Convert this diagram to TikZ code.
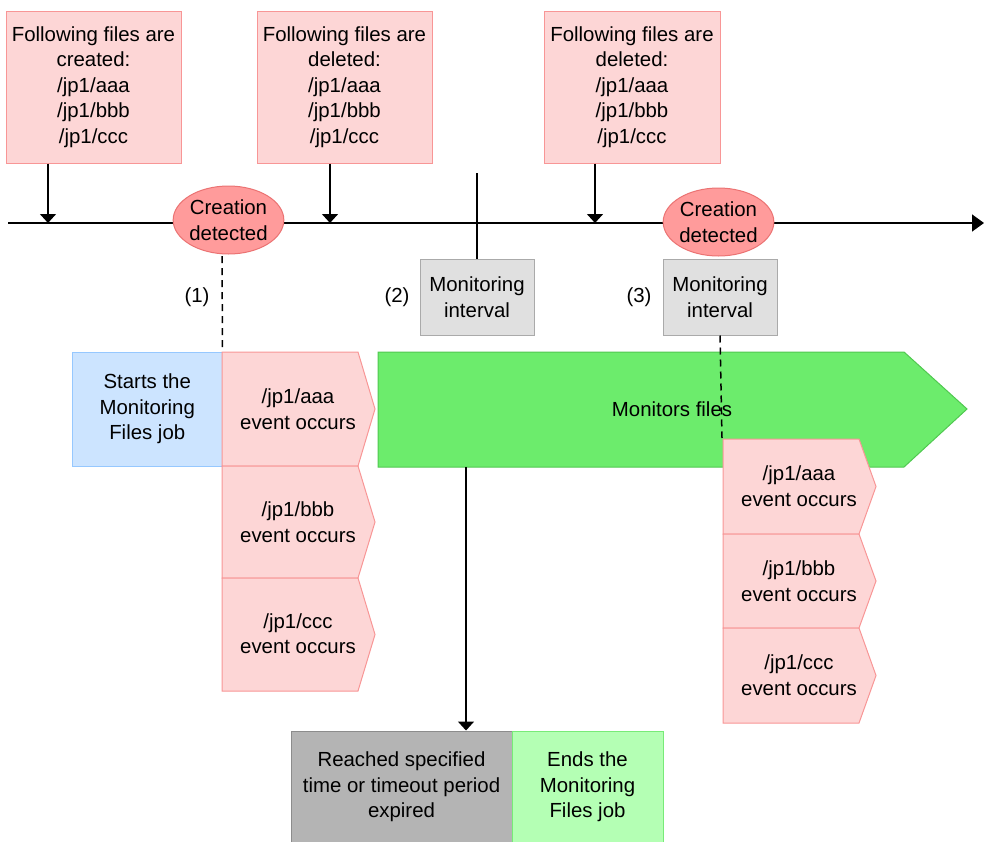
\documentclass[tikz,border=0pt]{standalone}
\usepackage{fontspec}
\setmainfont{Liberation Sans}
\usetikzlibrary{arrows.meta,shapes.geometric}
\definecolor{pinkfill}{RGB}{253,214,214}
\definecolor{pinkline}{RGB}{248,150,150}
\definecolor{ellfill}{RGB}{255,155,155}
\definecolor{ellline}{RGB}{235,115,115}
\definecolor{bluefill}{RGB}{204,228,255}
\definecolor{blueline}{RGB}{150,200,255}
\definecolor{greyfill}{RGB}{224,224,224}
\definecolor{greyline}{RGB}{170,170,170}
\definecolor{dgreyfill}{RGB}{180,180,180}
\definecolor{dgreyline}{RGB}{140,140,140}
\definecolor{greenfill}{RGB}{108,236,108}
\definecolor{greenline}{RGB}{80,200,80}
\definecolor{lgreenfill}{RGB}{180,255,180}
\definecolor{lgreenline}{RGB}{120,235,120}
\tikzset{
  pinkbox/.style={draw=pinkline, fill=pinkfill, line width=1pt, align=center, inner sep=0pt},
  evshape/.style={draw=pinkline, fill=pinkfill, line width=1pt},
  ellbox/.style={ellipse, draw=ellline, fill=ellfill, line width=1pt, align=center, inner sep=0pt, minimum width=103pt, minimum height=68pt},
  intbox/.style={draw=greyline, fill=greyfill, line width=1pt, align=center, inner sep=0pt, minimum width=114pt, minimum height=76pt},
  txt/.style={align=center, inner sep=0pt},
  arr/.style={line width=1.5pt, -{Triangle[width=16pt,length=9pt]}},
  dashline/.style={line width=1.5pt, dash pattern=on 7pt off 5pt},
}
\begin{document}
\begin{tikzpicture}[x=1pt,y=-1pt, font=\fontsize{20.4}{25.5}\selectfont]
\useasboundingbox (0,0) rectangle (984,841);

% top boxes
\node[pinkbox, minimum width=175pt, minimum height=152pt] (b1) at (93.5,87) {Following files are\\created:\\/jp1/aaa\\/jp1/bbb\\/jp1/ccc};
\node[pinkbox, minimum width=175pt, minimum height=152pt] (b2) at (344.5,87) {Following files are\\deleted:\\/jp1/aaa\\/jp1/bbb\\/jp1/ccc};
\node[pinkbox, minimum width=176pt, minimum height=152pt] (b3) at (632,87) {Following files are\\deleted:\\/jp1/aaa\\/jp1/bbb\\/jp1/ccc};

% timeline
\coordinate (tl0) at (8,223);
\coordinate (tl1) at (984,223);
\draw[line width=1.5pt, -{Triangle[width=17pt,length=12pt]}] (tl0) -- (tl1);

\coordinate (t1) at (48,223);
\coordinate (t2) at (330,223);
\coordinate (t3) at (595,223);
\draw[arr] (t1 |- b1.south) -- (t1);
\draw[arr] (t2 |- b2.south) -- (t2);
\draw[arr] (t3 |- b3.south) -- (t3);

% ellipses
\node[ellbox] (e1) at (228.5,220) {Creation\\detected};
\node[ellbox] (e2) at (718.5,222) {Creation\\detected};

% monitoring interval boxes
\node[intbox] (m2) at (477,297) {Monitoring\\interval};
\node[intbox] (m3) at (720,297) {Monitoring\\interval};
\coordinate (v2) at (477,173);
\draw[line width=1.5pt] (v2) -- (m2.north);

\node[txt] (l1) at (197,297) {(1)};
\node[txt] (l2) at (397,297) {(2)};
\node[txt] (l3) at (639,297) {(3)};

% blue start box
\node[draw=blueline, fill=bluefill, line width=1pt, txt, minimum width=149.5pt, minimum height=114pt] (start) at (147.25,409) {Starts the\\Monitoring\\Files job};

% left event shapes
\path[evshape] (222,352) -- (358,352) -- (375,409) -- (358,466) -- (222,466) -- cycle;
\path[evshape] (222,466) -- (358,466) -- (375,522) -- (358,578) -- (222,578) -- cycle;
\path[evshape] (222,578) -- (358,578) -- (375,634.5) -- (358,691) -- (222,691) -- cycle;
\node[txt] (la) at (298,409) {/jp1/aaa\\event occurs};
\node[txt] (lb) at (298,522) {/jp1/bbb\\event occurs};
\node[txt] (lc) at (298,633.5) {/jp1/ccc\\event occurs};

% green monitor arrow
\path[draw=greenline, fill=greenfill, line width=1pt] (378,352) -- (904,352) -- (967,409) -- (904,467) -- (378,467) -- cycle;
\node[txt] (mon) at (672,409) {Monitors files};

% right event shapes
\path[evshape] (723,439) -- (859,439) -- (876,486.5) -- (859,534) -- (723,534) -- cycle;
\path[evshape] (723,534) -- (859,534) -- (876,581) -- (859,628) -- (723,628) -- cycle;
\path[evshape] (723,628) -- (859,628) -- (876,675.5) -- (859,723) -- (723,723) -- cycle;
\node[txt] (ra) at (799,486) {/jp1/aaa\\event occurs};
\node[txt] (rb) at (799,581) {/jp1/bbb\\event occurs};
\node[txt] (rc) at (799,675) {/jp1/ccc\\event occurs};

% dashed lines
\coordinate (d1) at (222,256);
\draw[dashline] (d1) -- (start.north east);
\coordinate (d3) at (722,438);
\draw[dashline] (m3.south) -- (d3);

% bottom boxes
\node[draw=dgreyline, fill=dgreyfill, line width=1pt, txt, minimum width=221pt, minimum height=112pt] (reach) at (401.5,787) {Reached specified\\time or timeout period\\expired};
\node[draw=lgreenline, fill=lgreenfill, line width=1pt, txt, minimum width=151pt, minimum height=112pt] (ends) at (587.5,787) {Ends the\\Monitoring\\Files job};

\coordinate (g0) at (466,467);
\draw[arr] (g0) -- (g0 |- reach.north);
\end{tikzpicture}
\end{document}
